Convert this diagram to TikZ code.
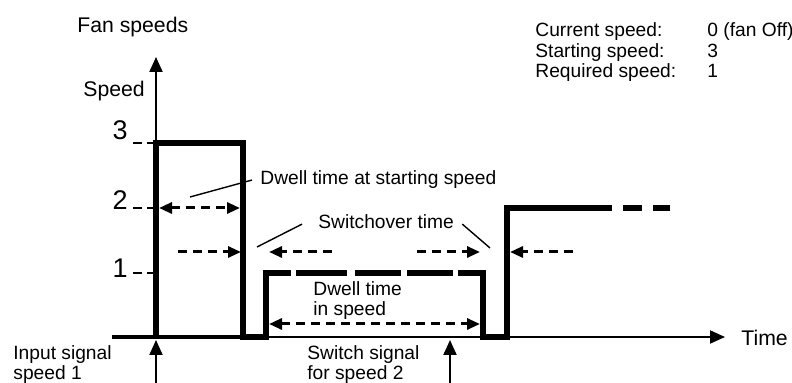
\documentclass[tikz,border=0pt]{standalone}
\usepackage{fontspec}
\setmainfont{Liberation Sans}
\usetikzlibrary{arrows.meta,positioning}

\begin{document}
\begin{tikzpicture}[
    x=0.5pt, y=-0.5pt,
    txt/.style={font=\fontsize{9.6}{10.3}\selectfont, inner sep=0pt, align=left, anchor=base west},
    axlabel/.style={txt, font=\fontsize{10.6}{11}\selectfont},
    lvl/.style={font=\fontsize{13.5}{14}\selectfont, inner sep=0pt, anchor=base east},
    fan/.style={line width=2.6pt, line cap=butt, line join=miter},
    axis/.style={line width=1pt, -{Triangle[length=7.5pt,width=6.5pt]}},
    dim/.style={line width=1.5pt, dash pattern=on 4.5pt off 3pt, -{Triangle[length=6.5pt,width=5.5pt]}},
    both/.style={dim, {Triangle[length=6.5pt,width=5.5pt]}-{Triangle[length=6.5pt,width=5.5pt]}},
    tickmark/.style={line width=0.6pt, dash pattern=on 4.5pt off 2.5pt},
    leader/.style={line width=0.7pt}
]
\useasboundingbox (0,0) rectangle (792,383);

% Levels
\coordinate (o) at (156,337);
\coordinate (s1) at (156,273);
\coordinate (s2) at (156,208);
\coordinate (s3) at (156,143);

% Axes
\coordinate (ytop) at (156,57);
\coordinate (tstart) at (112,337);
\coordinate (tend) at (725,337);
\draw[axis] (s3) -- (ytop);
\draw[axis] (tstart) -- (tend);
\draw[line width=1.6pt] (tstart) -- (266,337);
\node[axlabel] (fans) at (77,33) {Fan speeds};
\node[axlabel] (speed) at (83,97) {Speed};
\node[axlabel, anchor=west] (time) at (741,338) {Time};

% Level ticks
\draw[tickmark] (133,143) -- (s3);
\draw[tickmark] (133,208) -- (s2);
\draw[tickmark] (133,273) -- (s1);
\node[lvl] (n3) at (128,140) {3};
\node[lvl] (n2) at (128,210) {2};
\node[lvl] (n1) at (128,278) {1};

% Fan speed curve
\draw[fan] (o) -- (s3) -- (243,143) -- (243,337) -- (266,337)
    -- (266,273) -- (291,273);
\draw[fan] (296,273) -- (347,273);
\draw[fan] (355,273) -- (401,273);
\draw[fan] (407,273) -- (453,273);
\draw[fan] (458,273) -- (483,273) -- (483,337) -- (507,337) -- (507,208)
    -- (612,208);
\draw[fan] (623,208) -- (642,208);
\draw[fan] (653,208) -- (670,208);

% Dwell time at starting speed
\coordinate (dsl) at (159,208);
\coordinate (dsr) at (240,208);
\draw[both] (dsl) -- (dsr);
\node[txt] (dwellstart) at (260,185) {Dwell time at starting speed};
\draw[leader] (190,197) -- ([xshift=-4pt]dwellstart.west);

% Switchover time
\coordinate (sw1a) at (178,252);
\coordinate (sw1b) at (241,252);
\coordinate (sw2a) at (332,252);
\coordinate (sw2b) at (269,252);
\coordinate (sw3a) at (417,252);
\coordinate (sw3b) at (480,252);
\coordinate (sw4a) at (573,252);
\coordinate (sw4b) at (510,252);
\draw[dim] (sw1a) -- (sw1b);
\draw[dim] (sw2a) -- (sw2b);
\draw[dim] (sw3a) -- (sw3b);
\draw[dim] (sw4a) -- (sw4b);
\node[txt] (switchover) at (318,229) {Switchover time};
\draw[leader] (257,247) -- ([xshift=-8pt,yshift=-1pt]switchover.west);
\draw[leader] ([xshift=4pt,yshift=-1pt]switchover.east) -- (490,248);

% Dwell time in speed
\coordinate (dil) at (269,324);
\coordinate (dir) at (480,324);
\draw[both] (dil) -- (dir);
\node[txt] (dwellin) at (313,316) {Dwell time\\in speed};

% Current state
\node[txt] (state) at (535,78) {Current speed:\\Starting speed:\\Required speed:};
\node[txt] (values) at (707,78) {0 (fan Off)\\3\\1};

% Signals
\coordinate (in1) at (156,383);
\coordinate (in1tip) at (156,340);
\coordinate (in2) at (450,383);
\coordinate (in2tip) at (450,340);
\draw[axis] (in1) -- (in1tip);
\draw[axis] (in2) -- (in2tip);
\node[txt] (insignal) at (13,380) {Input signal\\speed 1};
\node[txt] (swsignal) at (307,380) {Switch signal\\for speed 2};

\end{tikzpicture}
\end{document}
